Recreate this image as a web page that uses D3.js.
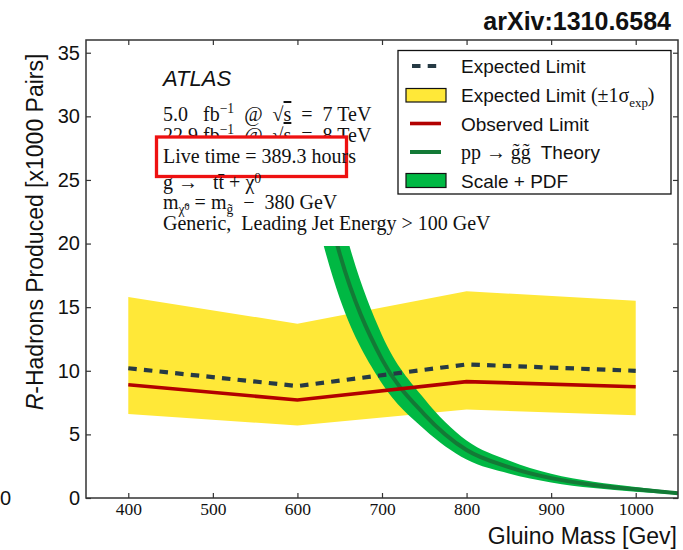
<!DOCTYPE html>
<html><head><meta charset="utf-8">
<script src="https://cdn.jsdelivr.net/npm/d3@7"></script>
<style>body{margin:0;background:#fff;} svg{display:block;} text{white-space:pre;}</style>
</head><body><svg id="c" width="683" height="550"></svg>
<script>
// ---------- data ----------
const gluinoMass = [400, 600, 800, 1000];
const expectedLimit = [10.2, 8.8, 10.5, 10.0];
const expectedUp = [15.8, 13.7, 16.25, 15.5];
const expectedDown = [6.6, 5.7, 6.95, 6.5];
const observedLimit = [8.9, 7.7, 9.15, 8.75];

const theoryMass = [600, 650, 700, 750, 800, 850, 900, 950, 1000, 1050];
const theoryXsec = [34.0, 19.2, 10.9, 6.58, 3.77, 2.43, 1.56, 1.03, 0.68, 0.37];
const theoryUp   = [40.0, 22.7, 12.8, 7.8, 4.52, 2.94, 1.90, 1.28, 0.86, 0.47];
const theoryDown = [28.0, 15.7, 9.0, 5.4, 3.02, 1.92, 1.22, 0.78, 0.50, 0.27];
const theoryClipMax = 19.8;

const xTicks = [400, 500, 600, 700, 800, 900, 1000];
const yTicks = [0, 5, 10, 15, 20, 25, 30, 35];
const xDomain = [350, 1050];
const yDomain = [0, 36];

// ---------- setup ----------
const SANS = "'Liberation Sans', Arial, Helvetica, sans-serif";
const SERIF = "'Liberation Serif', 'Times New Roman', serif";
const svg = d3.select("#c");
const L = 86, R = 678, T = 40, B = 498;
const x = d3.scaleLinear().domain(xDomain).range([L, R]);
const y = d3.scaleLinear().domain(yDomain).range([B, T]);

const defs = svg.append("defs");
defs.append("clipPath").attr("id", "plotclip")
  .append("rect").attr("x", L).attr("y", T).attr("width", R - L).attr("height", B - T);
defs.append("clipPath").attr("id", "theoryclip")
  .append("rect").attr("x", L).attr("y", y(theoryClipMax)).attr("width", R - L).attr("height", B - y(theoryClipMax));

const plot = svg.append("g").attr("clip-path", "url(#plotclip)");

const expData = gluinoMass.map((m, i) => ({m, e: expectedLimit[i], u: expectedUp[i], d: expectedDown[i], o: observedLimit[i]}));
const thData = theoryMass.map((m, i) => ({m, c: theoryXsec[i], u: theoryUp[i], d: theoryDown[i]}));

// yellow band
plot.append("path").datum(expData)
  .attr("d", d3.area().x(d => x(d.m)).y0(d => y(d.d)).y1(d => y(d.u)))
  .attr("fill", "#ffe838");

// theory band + line
const th = plot.append("g").attr("clip-path", "url(#theoryclip)");
th.append("path").datum(thData)
  .attr("d", d3.area().curve(d3.curveMonotoneX).x(d => x(d.m)).y0(d => y(d.d)).y1(d => y(d.u)))
  .attr("fill", "#00b843");
th.append("path").datum(thData)
  .attr("d", d3.line().curve(d3.curveMonotoneX).x(d => x(d.m)).y(d => y(d.c)))
  .attr("fill", "none").attr("stroke", "#137a36").attr("stroke-width", 4);

// expected dashed
plot.append("path").datum(expData)
  .attr("d", d3.line().x(d => x(d.m)).y(d => y(d.e)))
  .attr("fill", "none").attr("stroke", "#263a44").attr("stroke-width", 4.2)
  .attr("stroke-dasharray", "8.5,7.2");
// observed
plot.append("path").datum(expData)
  .attr("d", d3.line().x(d => x(d.m)).y(d => y(d.o)))
  .attr("fill", "none").attr("stroke", "#b20000").attr("stroke-width", 3.6);

// ---------- axes ----------
const axCol = "#333";
function styleAxis(g) {
  g.select(".domain").remove();
  g.selectAll(".tick line").attr("stroke", axCol).attr("stroke-width", 1.2);
}
svg.append("g").attr("transform", `translate(0,${B})`)
  .call(d3.axisBottom(x).tickValues(xTicks).tickFormat(d3.format("d")).tickSize(-5).tickPadding(5))
  .call(styleAxis)
  .call(g => g.selectAll("text").attr("font-family", SERIF).attr("font-size", "17.5px").attr("fill", "#111"));
svg.append("g").attr("transform", `translate(0,${T})`)
  .call(d3.axisTop(x).tickValues(xTicks).tickSize(-5).tickFormat(""))
  .call(styleAxis);
svg.append("g").attr("transform", `translate(${L},0)`)
  .call(d3.axisLeft(y).tickValues(yTicks).tickSize(-5).tickPadding(6))
  .call(styleAxis)
  .call(g => g.selectAll("text").attr("font-family", SANS).attr("font-size", "20px").attr("fill", "#111"));
svg.append("g").attr("transform", `translate(${R},0)`)
  .call(d3.axisRight(y).tickValues(yTicks).tickSize(-5).tickFormat(""))
  .call(styleAxis);
svg.append("rect").attr("x", L).attr("y", T).attr("width", R - L).attr("height", B - T)
  .attr("fill", "none").attr("stroke", axCol).attr("stroke-width", 1.5);

// stray label at far left
svg.append("text").attr("x", 0).attr("y", B + 7).attr("font-family", SANS).attr("font-size", "20px").attr("fill", "#111").text("0");

// axis titles
svg.append("text").attr("x", 677).attr("y", 544).attr("text-anchor", "end")
  .attr("font-family", SANS).attr("font-size", "23px").attr("fill", "#111").text("Gluino Mass [Gev]");
const yl = svg.append("text").attr("transform", "translate(43,232) rotate(-90)").attr("text-anchor", "middle")
  .attr("font-family", SANS).attr("font-size", "23px").attr("fill", "#111");
yl.append("tspan").attr("font-style", "italic").text("R");
yl.append("tspan").text("-Hadrons Produced [x1000 Pairs]");

// title
svg.append("text").attr("x", 671).attr("y", 30).attr("text-anchor", "end")
  .attr("font-family", SANS).attr("font-weight", "bold").attr("font-size", "25px").attr("fill", "#111")
  .text("arXiv:1310.6584");

// ---------- rich text helper: segs {t, f, s (size factor), o (offset factor, + = down), over} ----------
function rich(sel, segs, fs) {
  let cur = 0;
  segs.forEach(s => {
    const t = sel.append("tspan").text(s.t);
    if (s.f) t.attr("font-family", s.f);
    if (s.s) t.attr("font-size", fs * s.s + "px");
    const off = (s.o || 0) * fs;
    if (off !== cur) { t.attr("dy", off - cur); cur = off; }
    if (s.over) t.attr("text-decoration", "overline");
  });
}

// ---------- annotation ----------
const annX = 163, fsA = 20;
svg.append("text").attr("x", annX).attr("y", 86).attr("font-family", SANS).attr("font-style", "italic")
  .attr("font-size", "22px").attr("fill", "#111").text("ATLAS");
const SUP = -0.38, SUB = 0.25, SM = 0.68;
const lines = [
  [{t: "5.0   fb"}, {t: "−1", s: SM, o: SUP}, {t: "  @  √"}, {t: "s", over: true}, {t: "  =  7 TeV"}],
  [{t: "22.9 fb"}, {t: "−1", s: SM, o: SUP}, {t: "  @  √"}, {t: "s", over: true}, {t: "  =  8 TeV"}],
  null,
  null,
  [{t: "m"}, {t: "χ\u0303", s: SM, o: SUB}, {t: "0", s: 0.5, o: 0.05}, {t: " = m"}, {t: "g\u0303", s: SM, o: SUB}, {t: "  −  380 GeV"}],
  [{t: "Generic,  Leading Jet Energy > 100 GeV"}]
];
const line4 = [{t: "g →   tt\u0304 + χ"}, {t: "0", s: SM, o: -0.3}];
const baseY = [121, 142, 163, 188.5, 209, 229.5];
function drawLine(segs, yy) {
  const t = svg.append("text").attr("x", annX).attr("y", yy).attr("font-family", SERIF)
    .attr("font-size", fsA + "px").attr("fill", "#111");
  rich(t, segs, fsA);
}
lines.forEach((segs, i) => { if (segs) drawLine(segs, baseY[i]); });
// highlighted box
svg.append("rect").attr("x", 156.5).attr("y", 137).attr("width", 190).attr("height", 39.5)
  .attr("fill", "#fff").attr("stroke", "#ee1111").attr("stroke-width", 3.3);
svg.append("text").attr("x", annX).attr("y", baseY[2]).attr("font-family", SERIF)
  .attr("font-size", fsA + "px").attr("fill", "#111").text("Live time = 389.3 hours");
drawLine(line4, baseY[3]);

// ---------- legend ----------
const lg = svg.append("g");
lg.append("rect").attr("x", 398).attr("y", 50.5).attr("width", 273).attr("height", 143.5)
  .attr("fill", "#fff").attr("stroke", "#111").attr("stroke-width", 1.3);
const rowY = [66, 95, 123.5, 152, 180.5];
const hx0 = 410, hx1 = 441, tx = 461, fsL = 19;
lg.append("line").attr("x1", hx0).attr("x2", hx1).attr("y1", rowY[0]).attr("y2", rowY[0])
  .attr("stroke", "#263a44").attr("stroke-width", 4.2).attr("stroke-dasharray", "8.5,7.2").attr("stroke-dashoffset", -2);
lg.append("rect").attr("x", 406).attr("y", rowY[1] - 6.5).attr("width", 40).attr("height", 13.5)
  .attr("fill", "#ffe838").attr("stroke", "#111").attr("stroke-width", 1.2);
lg.append("line").attr("x1", hx0).attr("x2", hx1).attr("y1", rowY[2]).attr("y2", rowY[2])
  .attr("stroke", "#b20000").attr("stroke-width", 3.6);
lg.append("line").attr("x1", hx0).attr("x2", hx1).attr("y1", rowY[3]).attr("y2", rowY[3])
  .attr("stroke", "#137a36").attr("stroke-width", 4);
lg.append("rect").attr("x", 406).attr("y", rowY[4] - 7).attr("width", 40).attr("height", 14)
  .attr("fill", "#00b843").attr("stroke", "#111").attr("stroke-width", 1.2);
const legTexts = [
  [{t: "Expected Limit"}],
  [{t: "Expected Limit "}, {t: "(±1σ", f: SERIF, s: 1.05}, {t: "exp", f: SERIF, s: SM, o: SUB}, {t: ")", f: SERIF, s: 1.05}],
  [{t: "Observed Limit"}],
  [{t: "pp → g\u0303g\u0303  ", f: SERIF, s: 1.05}, {t: "Theory"}],
  [{t: "Scale + PDF"}]
];
legTexts.forEach((segs, i) => {
  const t = lg.append("text").attr("x", tx).attr("y", rowY[i] + 7).attr("font-family", SANS)
    .attr("font-size", fsL + "px").attr("fill", "#111");
  rich(t, segs, fsL);
});
</script></body></html>
